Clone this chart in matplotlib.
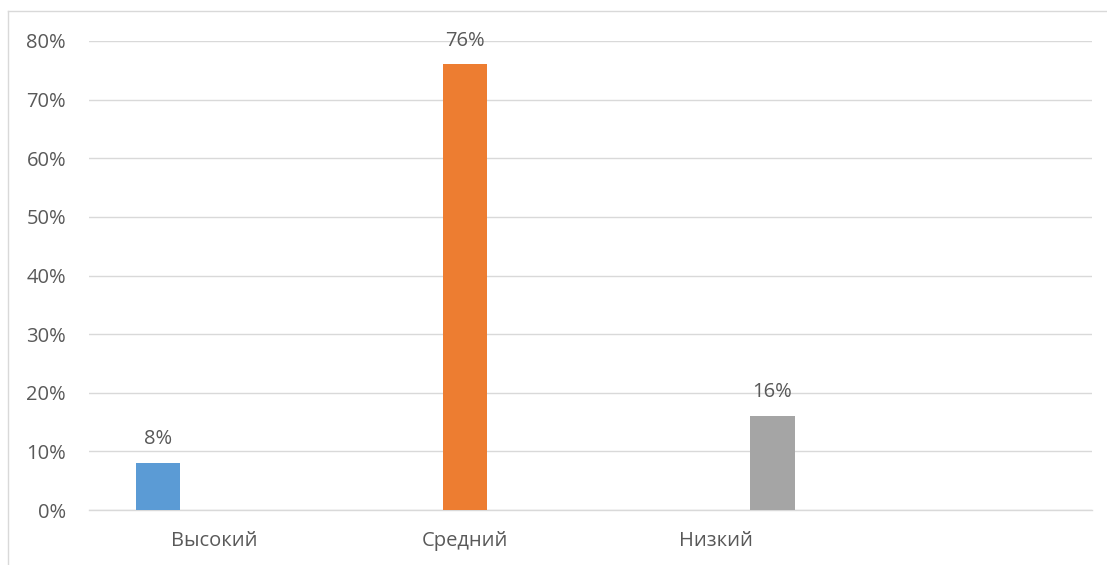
import matplotlib
matplotlib.use("Agg")
import matplotlib.pyplot as plt
from matplotlib.lines import Line2D

# ---- data ----
categories = ["Высокий", "Средний", "Низкий", ""]
series_names = ["Высокий", "Средний", "Низкий"]
series_values = [8, 76, 16]          # percent
series_colors = ["#5B9BD5", "#ED7D31", "#A5A5A5"]
y_ticks = [0, 10, 20, 30, 40, 50, 60, 70, 80]
y_tick_labels = [f"{v}%" for v in y_ticks]

TEXT = "#595959"
GRID = "#D9D9D9"

plt.rcParams["font.family"] = ["Open Sans", "DejaVu Sans"]

W, H = 1107, 565
fig = plt.figure(figsize=(W / 100, H / 100), dpi=100)
ax = fig.add_axes([89 / W, 1 - 510 / H, (1092 - 89) / W, (510 - 41) / H])

n = len(series_values)
offset = 0.226
bar_w = 0.176
for i, (name, v, c) in enumerate(zip(series_names, series_values, series_colors)):
    x = i + (i - (n - 1) / 2) * offset
    ax.bar([x], [v], width=bar_w, color=c, zorder=3)
    ax.annotate(f"{v}%", (x, v), xytext=(0, 10), textcoords="offset points",
                ha="center", va="bottom", fontsize=14.5, color=TEXT, zorder=4)

ax.set_xlim(-0.5, len(categories) - 0.5)
ax.set_ylim(0, 80)
ax.set_yticks(y_ticks)
ax.set_yticklabels(y_tick_labels)
ax.set_xticks(range(len(categories)))
ax.set_xticklabels(categories)
ax.tick_params(axis="y", length=0, pad=16.5, labelsize=14.5, labelcolor=TEXT)
ax.tick_params(axis="x", length=0, pad=15, labelsize=14.5, labelcolor=TEXT)
ax.yaxis.grid(True, color=GRID, linewidth=1.0, zorder=0)
ax.xaxis.grid(False)
for s in ["top", "right", "left"]:
    ax.spines[s].set_visible(False)
ax.spines["bottom"].set_color(GRID)
ax.spines["bottom"].set_linewidth(1.0)
ax.set_axisbelow(True)

# chart-area frame (top and left edges visible)
fig.add_artist(Line2D([8 / W, 8 / W], [1 - 11 / H, 0], transform=fig.transFigure,
                      color=GRID, linewidth=1.0))
fig.add_artist(Line2D([8 / W, 1], [1 - 11 / H, 1 - 11 / H], transform=fig.transFigure,
                      color=GRID, linewidth=1.0))

fig.savefig("out.png", dpi=100)
